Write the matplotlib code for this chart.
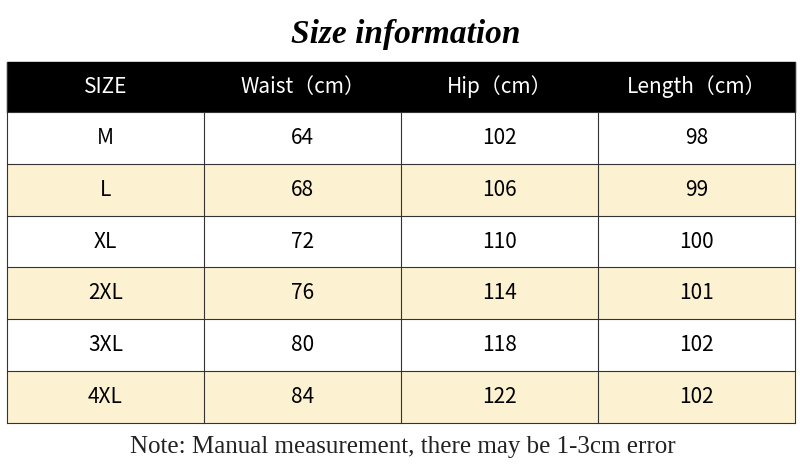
import matplotlib
matplotlib.use("Agg")
import matplotlib.pyplot as plt
from matplotlib.patches import Rectangle

title = "Size information"
headers = ["SIZE", "Waist（cm）", "Hip（cm）", "Length（cm）"]
sizes = ["M", "L", "XL", "2XL", "3XL", "4XL"]
waist = [64, 68, 72, 76, 80, 84]
hip = [102, 106, 110, 114, 118, 122]
length = [98, 99, 100, 101, 102, 102]
note = "Note: Manual measurement, there may be 1-3cm error"

fig = plt.figure(figsize=(8, 4.76), dpi=100)
ax = fig.add_axes([0, 0, 1, 1])
ax.set_xlim(0, 800); ax.set_ylim(476, 0); ax.axis("off")

fam = ["Noto Sans CJK SC", "DejaVu Sans"]
x0, x1 = 7, 795
cw = (x1 - x0) / 4
top, hh, rh = 62, 50, 51.8

ax.text(406, 34, title, ha="center", va="center", fontsize=24, fontweight="bold",
        fontstyle="italic", family="Liberation Serif")
ax.add_patch(Rectangle((x0, top), x1 - x0, hh, color="black"))
for j, h in enumerate(headers):
    ax.text(x0 + cw * (j + 0.5), top + hh / 2, h, ha="center", va="center",
            color="white", fontsize=15, family=fam)

rows = list(zip(sizes, waist, hip, length))
for i, r in enumerate(rows):
    y = top + hh + i * rh
    ax.add_patch(Rectangle((x0, y), x1 - x0, rh,
                           facecolor="#fcf2d2" if i % 2 else "white",
                           edgecolor="none"))
    for j, v in enumerate(r):
        ax.text(x0 + cw * (j + 0.5), y + rh / 2, str(v), ha="center", va="center",
                color="black", fontsize=15, family=fam)
bottom = top + hh + len(rows) * rh
for i in range(len(rows) + 1):
    y = top + hh + i * rh
    ax.plot([x0, x1], [y, y], color="#333333", lw=0.8)
ax.plot([x0, x0], [top, bottom], color="#333333", lw=0.8)
ax.plot([x1, x1], [top, bottom], color="#333333", lw=0.8)
for j in range(1, 4):
    xx = x0 + cw * j
    ax.plot([xx, xx], [top + hh, bottom], color="#333333", lw=0.8)

ax.text(403, 447, note, ha="center", va="center", fontsize=18,
        family="Liberation Serif", color="#222222")
fig.savefig("out.png", dpi=100)
